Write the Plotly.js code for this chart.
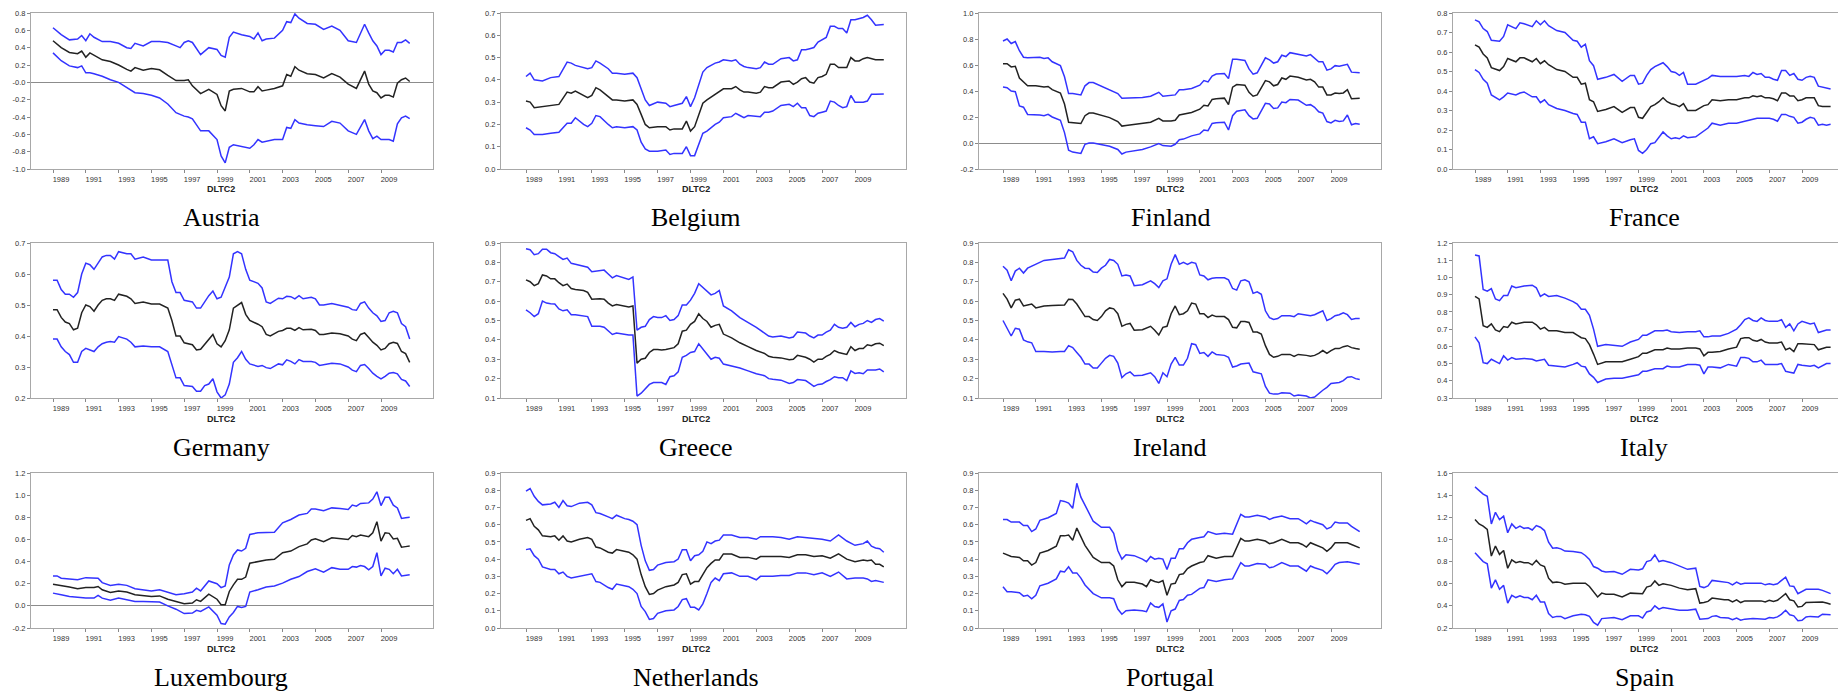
<!DOCTYPE html>
<html><head><meta charset="utf-8">
<script src="https://cdn.plot.ly/plotly-3.0.1.min.js"></script>
<style>html,body{margin:0;padding:0;background:#fff;} #chart{width:1838px;height:694px;}</style>
</head><body><div id="chart"></div>
<script>
// Each row: [year, estimate (DLTC2), upper band, lower band]
const austria = [
[1989.0,0.48,0.63,0.34],[1989.5,0.40,0.55,0.25],[1990.0,0.345,0.49,0.19],[1990.5,0.33,0.50,0.17],[1990.75,0.36,0.54,0.19],
[1991.0,0.29,0.48,0.11],[1991.25,0.34,0.56,0.11],[1991.5,0.31,0.52,0.10],[1992.0,0.26,0.47,0.07],[1992.5,0.24,0.47,0.03],
[1993.0,0.20,0.45,0.00],[1993.5,0.15,0.40,-0.06],[1993.75,0.13,0.39,-0.10],[1994.0,0.17,0.45,-0.12],[1994.5,0.14,0.42,-0.13],
[1995.0,0.16,0.47,-0.15],[1995.5,0.145,0.47,-0.18],[1996.0,0.08,0.46,-0.25],[1996.5,0.02,0.42,-0.35],[1996.75,0.02,0.40,-0.37],
[1997.0,0.02,0.46,-0.39],[1997.25,0.03,0.48,-0.40],[1997.5,-0.04,0.46,-0.42],[1998.0,-0.13,0.32,-0.56],[1998.5,-0.08,0.40,-0.56],
[1999.0,-0.14,0.38,-0.66],[1999.25,-0.27,0.31,-0.85],[1999.5,-0.33,0.29,-0.93],[1999.75,-0.10,0.52,-0.75],[2000.0,-0.08,0.58,-0.72],
[2000.5,-0.07,0.55,-0.74],[2001.0,-0.11,0.53,-0.76],[2001.25,-0.11,0.50,-0.72],[2001.5,-0.05,0.57,-0.66],[2001.75,-0.10,0.48,-0.69],
[2002.0,-0.09,0.50,-0.68],[2002.5,-0.07,0.51,-0.66],[2003.0,-0.04,0.60,-0.66],[2003.25,0.09,0.70,-0.52],[2003.5,0.07,0.69,-0.53],
[2003.75,0.18,0.79,-0.43],[2004.0,0.14,0.74,-0.47],[2004.5,0.10,0.68,-0.49],[2005.0,0.09,0.67,-0.50],[2005.5,0.05,0.61,-0.51],
[2006.0,0.10,0.65,-0.45],[2006.5,0.06,0.60,-0.47],[2007.0,-0.02,0.48,-0.56],[2007.5,-0.07,0.46,-0.60],[2008.0,0.13,0.67,-0.43],
[2008.25,-0.02,0.57,-0.56],[2008.5,-0.10,0.48,-0.65],[2008.75,-0.12,0.42,-0.62],[2009.0,-0.18,0.32,-0.66],[2009.25,-0.15,0.37,-0.66],
[2009.5,-0.15,0.37,-0.66],[2009.75,-0.17,0.35,-0.68],[2010.0,-0.01,0.46,-0.48],[2010.25,0.03,0.46,-0.41],[2010.5,0.05,0.49,-0.39],
[2010.75,0.01,0.45,-0.42]];
const belgium = [
[1989.0,0.305,0.415,0.185],[1989.25,0.30,0.43,0.175],[1989.5,0.275,0.40,0.155],[1990.0,0.28,0.395,0.155],[1990.5,0.285,0.41,0.16],
[1991.0,0.29,0.415,0.165],[1991.5,0.345,0.48,0.205],[1991.75,0.34,0.475,0.205],[1992.0,0.35,0.465,0.23],[1992.5,0.33,0.455,0.20],
[1992.75,0.32,0.45,0.19],[1993.0,0.33,0.455,0.205],[1993.25,0.365,0.485,0.24],[1993.5,0.355,0.475,0.235],[1994.0,0.325,0.45,0.20],
[1994.25,0.31,0.43,0.185],[1994.5,0.31,0.43,0.19],[1995.0,0.305,0.425,0.185],[1995.5,0.31,0.43,0.19],[1995.75,0.29,0.41,0.175],
[1996.0,0.245,0.36,0.12],[1996.25,0.20,0.31,0.09],[1996.5,0.185,0.285,0.08],[1997.0,0.19,0.30,0.08],[1997.5,0.19,0.295,0.085],
[1997.75,0.175,0.28,0.065],[1998.0,0.18,0.285,0.07],[1998.5,0.18,0.295,0.07],[1998.75,0.215,0.325,0.10],[1999.0,0.17,0.28,0.06],
[1999.25,0.19,0.32,0.06],[1999.5,0.24,0.375,0.11],[1999.75,0.295,0.435,0.16],[2000.0,0.31,0.455,0.17],[2000.5,0.335,0.475,0.20],
[2000.75,0.345,0.48,0.21],[2001.0,0.36,0.49,0.23],[2001.5,0.36,0.485,0.235],[2001.75,0.37,0.49,0.25],[2002.0,0.355,0.47,0.24],
[2002.25,0.345,0.46,0.23],[2002.5,0.345,0.455,0.24],[2003.0,0.34,0.45,0.235],[2003.25,0.345,0.455,0.235],[2003.5,0.37,0.48,0.255],
[2003.75,0.365,0.47,0.255],[2004.0,0.365,0.47,0.26],[2004.5,0.39,0.495,0.285],[2005.0,0.395,0.50,0.29],[2005.25,0.38,0.485,0.28],
[2005.5,0.39,0.49,0.295],[2005.75,0.405,0.535,0.275],[2006.0,0.41,0.535,0.275],[2006.25,0.39,0.54,0.24],[2006.5,0.385,0.545,0.235],
[2006.75,0.41,0.57,0.25],[2007.0,0.415,0.58,0.255],[2007.25,0.425,0.59,0.26],[2007.5,0.47,0.64,0.305],[2007.75,0.47,0.64,0.30],
[2008.0,0.455,0.63,0.285],[2008.25,0.455,0.63,0.275],[2008.5,0.455,0.61,0.28],[2008.75,0.50,0.67,0.33],[2009.0,0.485,0.67,0.30],
[2009.25,0.485,0.675,0.30],[2009.5,0.495,0.68,0.30],[2009.75,0.50,0.69,0.305],[2010.0,0.495,0.67,0.335],[2010.25,0.49,0.645,0.335],
[2010.5,0.49,0.645,0.337],[2010.75,0.49,0.648,0.337]];
const finland = [
[1989.0,0.61,0.785,0.43],[1989.25,0.61,0.80,0.425],[1989.5,0.585,0.765,0.40],[1989.75,0.59,0.78,0.395],[1990.0,0.50,0.71,0.285],
[1990.25,0.47,0.66,0.275],[1990.5,0.44,0.655,0.22],[1991.0,0.44,0.655,0.22],[1991.25,0.435,0.66,0.215],[1991.5,0.43,0.65,0.21],
[1991.75,0.435,0.655,0.22],[1992.0,0.41,0.625,0.20],[1992.5,0.385,0.595,0.175],[1992.75,0.30,0.51,0.08],[1993.0,0.16,0.38,-0.055],
[1993.25,0.155,0.38,-0.07],[1993.5,0.15,0.375,-0.075],[1993.75,0.15,0.37,-0.08],[1994.0,0.21,0.44,-0.01],[1994.25,0.23,0.465,0.0],
[1994.5,0.23,0.465,0.0],[1995.0,0.21,0.435,-0.01],[1995.5,0.195,0.41,-0.025],[1996.0,0.165,0.38,-0.05],[1996.25,0.13,0.345,-0.085],
[1996.5,0.135,0.345,-0.07],[1997.0,0.145,0.345,-0.06],[1997.5,0.15,0.35,-0.05],[1998.0,0.16,0.36,-0.03],[1998.5,0.19,0.39,-0.005],
[1998.75,0.17,0.36,-0.02],[1999.25,0.17,0.365,-0.025],[1999.5,0.175,0.37,-0.01],[1999.75,0.215,0.41,0.025],[2000.0,0.22,0.41,0.03],
[2000.5,0.235,0.42,0.055],[2001.0,0.26,0.445,0.07],[2001.25,0.29,0.48,0.10],[2001.5,0.285,0.47,0.095],[2001.75,0.335,0.515,0.15],
[2002.0,0.34,0.53,0.155],[2002.5,0.345,0.535,0.16],[2002.75,0.295,0.495,0.10],[2003.0,0.43,0.645,0.21],[2003.25,0.45,0.645,0.245],
[2003.75,0.445,0.635,0.255],[2004.0,0.39,0.57,0.21],[2004.25,0.36,0.53,0.185],[2004.5,0.37,0.54,0.19],[2005.0,0.48,0.655,0.305],
[2005.25,0.47,0.64,0.30],[2005.5,0.44,0.615,0.265],[2005.75,0.45,0.625,0.27],[2006.0,0.50,0.675,0.315],[2006.25,0.49,0.665,0.31],
[2006.5,0.515,0.695,0.335],[2007.0,0.505,0.685,0.33],[2007.5,0.485,0.67,0.29],[2007.75,0.49,0.68,0.295],[2008.0,0.47,0.655,0.275],
[2008.25,0.43,0.625,0.24],[2008.5,0.43,0.625,0.23],[2008.75,0.37,0.56,0.165],[2009.0,0.37,0.57,0.155],[2009.25,0.385,0.595,0.175],
[2009.5,0.38,0.59,0.165],[2009.75,0.385,0.595,0.17],[2010.0,0.41,0.605,0.215],[2010.25,0.34,0.545,0.14],[2010.5,0.345,0.545,0.15],
[2010.75,0.345,0.54,0.145]];
const france = [
[1989.0,0.637,0.765,0.51],[1989.25,0.625,0.755,0.495],[1989.5,0.59,0.72,0.46],[1989.75,0.57,0.705,0.44],[1990.0,0.52,0.66,0.38],
[1990.5,0.505,0.655,0.355],[1990.75,0.525,0.68,0.37],[1991.0,0.567,0.74,0.39],[1991.5,0.55,0.72,0.38],[1991.75,0.57,0.75,0.39],
[1992.0,0.57,0.745,0.395],[1992.5,0.55,0.73,0.37],[1992.75,0.567,0.76,0.37],[1993.0,0.54,0.74,0.34],[1993.25,0.555,0.76,0.355],
[1993.5,0.535,0.735,0.33],[1994.0,0.51,0.71,0.31],[1994.5,0.50,0.70,0.30],[1995.0,0.47,0.66,0.285],[1995.25,0.47,0.655,0.28],
[1995.5,0.435,0.625,0.24],[1995.75,0.44,0.64,0.24],[1996.0,0.355,0.555,0.155],[1996.25,0.345,0.53,0.165],[1996.5,0.295,0.46,0.13],
[1997.0,0.305,0.47,0.14],[1997.5,0.32,0.485,0.155],[1997.75,0.305,0.465,0.145],[1998.0,0.29,0.45,0.135],[1998.5,0.315,0.48,0.15],
[1998.75,0.315,0.48,0.155],[1999.0,0.265,0.435,0.095],[1999.25,0.26,0.44,0.08],[1999.5,0.29,0.48,0.10],[1999.75,0.32,0.51,0.13],
[2000.0,0.33,0.525,0.135],[2000.25,0.345,0.535,0.16],[2000.5,0.365,0.545,0.19],[2000.75,0.345,0.525,0.17],[2001.0,0.335,0.50,0.155],
[2001.25,0.33,0.495,0.16],[2001.5,0.32,0.48,0.155],[2001.75,0.335,0.495,0.17],[2002.0,0.30,0.435,0.16],[2002.5,0.30,0.435,0.165],
[2003.0,0.325,0.455,0.195],[2003.25,0.33,0.465,0.21],[2003.5,0.355,0.48,0.235],[2004.0,0.35,0.475,0.225],[2004.5,0.355,0.475,0.235],
[2005.0,0.355,0.475,0.235],[2005.5,0.365,0.48,0.245],[2005.75,0.365,0.475,0.25],[2006.0,0.375,0.495,0.255],[2006.25,0.37,0.485,0.26],
[2006.5,0.375,0.49,0.26],[2006.75,0.365,0.47,0.26],[2007.0,0.365,0.47,0.26],[2007.25,0.36,0.46,0.255],[2007.5,0.35,0.455,0.245],
[2007.75,0.39,0.505,0.28],[2008.0,0.39,0.505,0.28],[2008.25,0.375,0.48,0.27],[2008.5,0.375,0.49,0.265],[2008.75,0.35,0.46,0.235],
[2009.0,0.355,0.455,0.24],[2009.25,0.365,0.47,0.255],[2009.5,0.365,0.475,0.265],[2009.75,0.365,0.47,0.26],[2010.0,0.325,0.425,0.225],
[2010.25,0.32,0.42,0.23],[2010.5,0.32,0.415,0.225],[2010.75,0.32,0.41,0.23]];
const germany = [
[1989.0,0.485,0.58,0.39],[1989.25,0.485,0.58,0.39],[1989.5,0.46,0.55,0.365],[1989.75,0.445,0.535,0.35],[1990.0,0.44,0.535,0.34],
[1990.25,0.42,0.525,0.315],[1990.5,0.425,0.54,0.315],[1990.75,0.475,0.60,0.35],[1991.0,0.50,0.635,0.36],[1991.25,0.495,0.63,0.355],
[1991.5,0.48,0.615,0.35],[1991.75,0.50,0.635,0.365],[1992.0,0.515,0.655,0.375],[1992.25,0.52,0.66,0.38],[1992.5,0.52,0.66,0.382],
[1992.75,0.515,0.648,0.38],[1993.0,0.535,0.672,0.398],[1993.5,0.528,0.665,0.39],[1993.75,0.52,0.665,0.38],[1994.0,0.505,0.648,0.365],
[1994.5,0.51,0.655,0.368],[1995.0,0.503,0.645,0.365],[1995.5,0.503,0.645,0.365],[1996.0,0.49,0.645,0.35],[1996.25,0.45,0.575,0.305],
[1996.5,0.40,0.54,0.265],[1996.75,0.40,0.54,0.265],[1997.0,0.378,0.515,0.24],[1997.5,0.372,0.51,0.237],[1997.75,0.355,0.49,0.222],
[1998.0,0.357,0.49,0.222],[1998.25,0.372,0.51,0.24],[1998.5,0.39,0.53,0.245],[1998.75,0.405,0.545,0.262],[1999.0,0.375,0.52,0.22],
[1999.25,0.365,0.525,0.20],[1999.5,0.385,0.555,0.21],[1999.75,0.42,0.59,0.245],[2000.0,0.49,0.665,0.315],[2000.25,0.50,0.672,0.33],
[2000.5,0.508,0.665,0.35],[2000.75,0.47,0.615,0.325],[2001.0,0.45,0.58,0.31],[2001.5,0.438,0.57,0.302],[2001.75,0.43,0.555,0.305],
[2002.0,0.405,0.51,0.298],[2002.25,0.40,0.505,0.295],[2002.75,0.415,0.522,0.31],[2003.0,0.418,0.52,0.307],[2003.25,0.425,0.528,0.323],
[2003.5,0.425,0.527,0.318],[2003.75,0.418,0.52,0.31],[2004.0,0.427,0.53,0.324],[2004.25,0.42,0.52,0.318],[2004.75,0.422,0.525,0.318],
[2005.0,0.418,0.52,0.315],[2005.25,0.405,0.50,0.305],[2005.5,0.405,0.50,0.307],[2006.0,0.41,0.505,0.312],[2006.5,0.407,0.50,0.31],
[2007.0,0.40,0.493,0.30],[2007.25,0.39,0.485,0.29],[2007.5,0.385,0.483,0.285],[2007.75,0.405,0.505,0.305],[2008.0,0.41,0.51,0.308],
[2008.25,0.395,0.49,0.295],[2008.5,0.38,0.475,0.28],[2008.75,0.37,0.465,0.27],[2009.0,0.355,0.447,0.262],[2009.25,0.36,0.45,0.27],
[2009.5,0.375,0.475,0.28],[2009.75,0.38,0.48,0.282],[2010.0,0.376,0.475,0.278],[2010.25,0.35,0.44,0.26],[2010.5,0.343,0.43,0.255],
[2010.75,0.315,0.39,0.237]];
const greece = [
[1989.0,0.71,0.87,0.555],[1989.25,0.70,0.865,0.54],[1989.5,0.68,0.84,0.52],[1989.75,0.69,0.845,0.535],[1990.0,0.735,0.868,0.60],
[1990.25,0.73,0.868,0.59],[1990.5,0.715,0.85,0.587],[1990.75,0.715,0.845,0.585],[1991.0,0.695,0.83,0.56],[1991.25,0.68,0.815,0.55],
[1991.5,0.688,0.822,0.555],[1991.75,0.665,0.795,0.53],[1992.0,0.66,0.79,0.53],[1992.5,0.655,0.78,0.525],[1992.75,0.645,0.775,0.52],
[1993.0,0.61,0.752,0.47],[1993.5,0.612,0.758,0.47],[1993.75,0.61,0.76,0.465],[1994.0,0.59,0.74,0.445],[1994.25,0.575,0.72,0.428],
[1994.5,0.582,0.732,0.435],[1995.0,0.575,0.72,0.428],[1995.25,0.57,0.712,0.425],[1995.5,0.575,0.725,0.425],[1995.75,0.28,0.45,0.11],
[1996.0,0.30,0.465,0.125],[1996.25,0.305,0.47,0.145],[1996.5,0.335,0.505,0.17],[1996.75,0.35,0.52,0.18],[1997.0,0.35,0.515,0.18],
[1997.25,0.348,0.515,0.18],[1997.5,0.35,0.525,0.17],[1997.75,0.355,0.50,0.21],[1998.0,0.36,0.505,0.215],[1998.25,0.38,0.525,0.235],
[1998.5,0.445,0.58,0.31],[1998.75,0.45,0.58,0.32],[1999.0,0.48,0.605,0.335],[1999.25,0.495,0.64,0.34],[1999.5,0.535,0.69,0.38],
[1999.75,0.51,0.67,0.355],[2000.0,0.495,0.655,0.33],[2000.25,0.465,0.632,0.30],[2000.5,0.475,0.64,0.31],[2000.75,0.48,0.655,0.305],
[2001.0,0.43,0.575,0.275],[2001.5,0.41,0.55,0.265],[2002.0,0.385,0.515,0.255],[2002.5,0.365,0.49,0.24],[2003.0,0.345,0.465,0.225],
[2003.5,0.33,0.435,0.215],[2003.75,0.315,0.42,0.20],[2004.0,0.31,0.415,0.197],[2004.5,0.307,0.42,0.192],[2005.0,0.297,0.41,0.175],
[2005.25,0.30,0.415,0.18],[2005.5,0.32,0.44,0.195],[2006.0,0.31,0.435,0.19],[2006.25,0.30,0.42,0.175],[2006.5,0.285,0.41,0.16],
[2006.75,0.30,0.425,0.17],[2007.0,0.30,0.425,0.172],[2007.25,0.315,0.44,0.185],[2007.5,0.325,0.45,0.195],[2007.75,0.345,0.48,0.21],
[2008.0,0.335,0.465,0.205],[2008.25,0.33,0.46,0.205],[2008.5,0.325,0.465,0.19],[2008.75,0.365,0.49,0.24],[2009.0,0.345,0.468,0.227],
[2009.25,0.355,0.48,0.23],[2009.5,0.355,0.485,0.225],[2009.75,0.375,0.50,0.245],[2010.0,0.37,0.49,0.245],[2010.25,0.38,0.505,0.245],
[2010.5,0.383,0.51,0.25],[2010.75,0.37,0.497,0.235]];
const ireland = [
[1989.0,0.64,0.78,0.50],[1989.25,0.61,0.76,0.46],[1989.5,0.565,0.705,0.42],[1989.75,0.605,0.755,0.46],[1990.0,0.61,0.77,0.455],
[1990.25,0.575,0.745,0.40],[1990.5,0.58,0.77,0.39],[1990.75,0.585,0.78,0.385],[1991.0,0.565,0.79,0.34],[1991.5,0.575,0.81,0.34],
[1992.0,0.577,0.815,0.338],[1992.5,0.58,0.82,0.34],[1992.75,0.58,0.822,0.34],[1993.0,0.61,0.865,0.37],[1993.25,0.608,0.855,0.36],
[1993.5,0.585,0.81,0.335],[1993.75,0.555,0.785,0.31],[1994.0,0.52,0.77,0.275],[1994.25,0.52,0.768,0.275],[1994.5,0.505,0.75,0.255],
[1994.75,0.50,0.748,0.255],[1995.0,0.52,0.77,0.28],[1995.25,0.55,0.785,0.305],[1995.5,0.565,0.815,0.32],[1995.75,0.56,0.81,0.315],
[1996.0,0.535,0.79,0.28],[1996.25,0.47,0.73,0.205],[1996.5,0.48,0.735,0.225],[1996.75,0.485,0.73,0.235],[1997.0,0.45,0.68,0.215],
[1997.5,0.452,0.685,0.217],[1998.0,0.47,0.705,0.23],[1998.25,0.45,0.69,0.21],[1998.5,0.425,0.67,0.175],[1998.75,0.465,0.705,0.23],
[1999.0,0.47,0.715,0.21],[1999.25,0.535,0.79,0.275],[1999.5,0.575,0.84,0.31],[1999.75,0.53,0.79,0.27],[2000.0,0.535,0.80,0.27],
[2000.25,0.55,0.79,0.305],[2000.5,0.59,0.80,0.38],[2000.75,0.585,0.795,0.375],[2001.0,0.535,0.735,0.33],[2001.25,0.535,0.73,0.335],
[2001.5,0.515,0.71,0.315],[2001.75,0.528,0.718,0.338],[2002.0,0.52,0.72,0.325],[2002.5,0.52,0.72,0.32],[2002.75,0.505,0.71,0.31],
[2003.0,0.465,0.665,0.26],[2003.25,0.462,0.657,0.265],[2003.5,0.495,0.705,0.275],[2003.75,0.495,0.71,0.278],[2004.0,0.49,0.70,0.28],
[2004.25,0.44,0.64,0.235],[2004.5,0.44,0.648,0.23],[2004.75,0.43,0.635,0.225],[2005.0,0.37,0.55,0.16],[2005.25,0.325,0.515,0.125],
[2005.5,0.31,0.505,0.12],[2005.75,0.315,0.51,0.12],[2006.0,0.325,0.525,0.127],[2006.5,0.325,0.525,0.125],[2006.75,0.315,0.52,0.11],
[2007.0,0.325,0.535,0.115],[2007.5,0.32,0.53,0.11],[2007.75,0.315,0.525,0.10],[2008.0,0.32,0.53,0.105],[2008.25,0.33,0.54,0.125],
[2008.5,0.345,0.55,0.14],[2008.75,0.33,0.50,0.155],[2009.0,0.345,0.51,0.175],[2009.25,0.355,0.525,0.178],[2009.5,0.355,0.53,0.18],
[2009.75,0.365,0.54,0.19],[2010.0,0.37,0.53,0.207],[2010.25,0.36,0.505,0.21],[2010.5,0.355,0.51,0.20],[2010.75,0.352,0.51,0.195]];
const italy = [
[1989.0,0.89,1.13,0.655],[1989.25,0.875,1.125,0.62],[1989.5,0.72,0.93,0.505],[1989.75,0.71,0.92,0.50],[1990.0,0.73,0.935,0.525],
[1990.25,0.695,0.875,0.51],[1990.5,0.685,0.865,0.50],[1990.75,0.715,0.895,0.545],[1991.0,0.71,0.895,0.52],[1991.25,0.74,0.95,0.535],
[1991.5,0.73,0.94,0.525],[1992.0,0.74,0.95,0.53],[1992.5,0.74,0.955,0.525],[1992.75,0.725,0.94,0.515],[1993.0,0.70,0.89,0.52],
[1993.25,0.71,0.905,0.525],[1993.5,0.69,0.89,0.49],[1994.0,0.69,0.895,0.485],[1994.5,0.68,0.88,0.48],[1995.0,0.68,0.86,0.495],
[1995.25,0.665,0.845,0.505],[1995.5,0.65,0.815,0.485],[1995.75,0.645,0.815,0.48],[1996.0,0.61,0.78,0.44],[1996.25,0.555,0.70,0.42],
[1996.5,0.495,0.60,0.39],[1997.0,0.51,0.61,0.41],[1997.5,0.51,0.605,0.415],[1998.0,0.51,0.60,0.415],[1998.5,0.525,0.625,0.425],
[1999.0,0.54,0.64,0.435],[1999.25,0.56,0.665,0.455],[1999.5,0.56,0.665,0.455],[2000.0,0.58,0.69,0.47],[2000.5,0.58,0.69,0.47],
[2000.75,0.59,0.695,0.485],[2001.0,0.585,0.685,0.48],[2001.5,0.585,0.68,0.48],[2002.0,0.59,0.685,0.495],[2002.5,0.59,0.685,0.495],
[2002.75,0.585,0.69,0.49],[2003.0,0.545,0.655,0.44],[2003.25,0.565,0.655,0.48],[2003.5,0.565,0.66,0.48],[2004.0,0.57,0.66,0.475],
[2004.5,0.585,0.675,0.495],[2005.0,0.595,0.70,0.485],[2005.25,0.645,0.725,0.535],[2005.5,0.65,0.755,0.535],[2005.75,0.65,0.765,0.53],
[2006.0,0.635,0.75,0.51],[2006.25,0.63,0.745,0.51],[2006.5,0.64,0.765,0.52],[2006.75,0.625,0.75,0.495],[2007.0,0.62,0.745,0.495],
[2007.5,0.62,0.745,0.495],[2007.75,0.625,0.755,0.50],[2008.0,0.58,0.71,0.455],[2008.25,0.59,0.73,0.45],[2008.5,0.57,0.69,0.445],
[2008.75,0.615,0.73,0.495],[2009.0,0.615,0.745,0.49],[2009.5,0.61,0.73,0.485],[2009.75,0.61,0.735,0.49],[2010.0,0.58,0.68,0.475],
[2010.5,0.595,0.695,0.50],[2010.75,0.595,0.695,0.50]];
const luxembourg = [
[1989.0,0.195,0.27,0.115],[1989.25,0.19,0.27,0.11],[1989.5,0.18,0.25,0.10],[1990.0,0.17,0.245,0.085],[1990.5,0.155,0.235,0.075],
[1991.0,0.165,0.255,0.07],[1991.5,0.165,0.255,0.07],[1991.75,0.175,0.25,0.095],[1992.0,0.145,0.21,0.07],[1992.5,0.12,0.185,0.05],
[1993.0,0.135,0.195,0.07],[1993.5,0.125,0.185,0.055],[1994.0,0.10,0.155,0.04],[1994.5,0.095,0.145,0.04],[1995.0,0.085,0.135,0.035],
[1995.5,0.09,0.145,0.035],[1996.0,0.06,0.12,0.0],[1996.5,0.04,0.10,-0.03],[1997.0,0.02,0.11,-0.07],[1997.5,0.025,0.125,-0.065],
[1997.75,0.055,0.16,-0.04],[1998.0,0.04,0.135,-0.05],[1998.5,0.105,0.225,-0.01],[1999.0,0.06,0.20,-0.085],[1999.25,0.01,0.165,-0.16],
[1999.5,0.01,0.18,-0.165],[1999.75,0.13,0.37,-0.10],[2000.0,0.19,0.46,-0.06],[2000.25,0.24,0.505,-0.005],[2000.5,0.24,0.495,-0.015],
[2000.75,0.26,0.52,-0.005],[2001.0,0.385,0.645,0.125],[2001.5,0.40,0.66,0.145],[2002.0,0.415,0.66,0.17],[2002.5,0.42,0.665,0.18],
[2003.0,0.48,0.75,0.205],[2003.5,0.495,0.78,0.24],[2004.0,0.535,0.82,0.265],[2004.5,0.56,0.835,0.31],[2004.75,0.595,0.875,0.32],
[2005.0,0.605,0.875,0.335],[2005.5,0.58,0.86,0.305],[2006.0,0.615,0.885,0.345],[2006.5,0.61,0.88,0.33],[2007.0,0.60,0.87,0.33],
[2007.25,0.635,0.91,0.355],[2007.5,0.625,0.90,0.35],[2007.75,0.64,0.925,0.365],[2008.0,0.635,0.925,0.355],[2008.25,0.625,0.93,0.325],
[2008.5,0.66,0.965,0.355],[2008.75,0.76,1.03,0.48],[2009.0,0.585,0.905,0.27],[2009.25,0.66,0.98,0.34],[2009.5,0.655,0.98,0.33],
[2009.75,0.605,0.91,0.29],[2010.0,0.61,0.885,0.33],[2010.25,0.53,0.79,0.27],[2010.5,0.535,0.795,0.275],[2010.75,0.54,0.80,0.28]];
const netherlands = [
[1989.0,0.625,0.795,0.455],[1989.25,0.635,0.81,0.46],[1989.5,0.59,0.765,0.42],[1989.75,0.57,0.735,0.40],[1990.0,0.535,0.715,0.355],
[1990.5,0.53,0.72,0.34],[1990.75,0.535,0.73,0.34],[1991.0,0.51,0.70,0.315],[1991.25,0.535,0.74,0.325],[1991.5,0.505,0.71,0.30],
[1991.75,0.50,0.705,0.29],[1992.25,0.515,0.725,0.30],[1992.75,0.525,0.73,0.31],[1993.0,0.515,0.715,0.315],[1993.25,0.47,0.67,0.27],
[1993.5,0.465,0.665,0.265],[1994.0,0.44,0.645,0.235],[1994.25,0.435,0.635,0.225],[1994.5,0.455,0.655,0.255],[1995.0,0.445,0.635,0.245],
[1995.25,0.44,0.63,0.24],[1995.5,0.425,0.62,0.225],[1995.75,0.40,0.60,0.20],[1996.0,0.31,0.48,0.125],[1996.25,0.24,0.39,0.095],
[1996.5,0.195,0.335,0.05],[1996.75,0.20,0.34,0.055],[1997.0,0.22,0.365,0.085],[1997.5,0.24,0.38,0.10],[1998.0,0.25,0.385,0.105],
[1998.25,0.265,0.40,0.125],[1998.5,0.31,0.455,0.165],[1998.75,0.315,0.455,0.17],[1999.0,0.255,0.39,0.12],[1999.25,0.27,0.42,0.12],
[1999.5,0.27,0.425,0.105],[1999.75,0.31,0.445,0.14],[2000.0,0.35,0.50,0.20],[2000.25,0.375,0.49,0.265],[2000.5,0.395,0.505,0.29],
[2000.75,0.395,0.51,0.275],[2001.0,0.43,0.54,0.315],[2001.5,0.43,0.54,0.32],[2002.0,0.41,0.525,0.30],[2002.5,0.41,0.525,0.30],
[2003.0,0.40,0.515,0.28],[2003.25,0.415,0.53,0.30],[2004.0,0.415,0.53,0.30],[2004.5,0.415,0.525,0.305],[2005.0,0.41,0.515,0.305],
[2005.5,0.425,0.53,0.32],[2006.0,0.425,0.525,0.32],[2006.5,0.415,0.52,0.31],[2007.0,0.42,0.515,0.32],[2007.5,0.405,0.505,0.30],
[2008.0,0.43,0.54,0.325],[2008.5,0.40,0.505,0.285],[2009.0,0.385,0.48,0.29],[2009.5,0.395,0.49,0.29],[2009.75,0.39,0.505,0.285],
[2010.0,0.395,0.475,0.27],[2010.25,0.37,0.465,0.275],[2010.5,0.37,0.46,0.27],[2010.75,0.355,0.44,0.265]];
const portugal = [
[1989.0,0.435,0.63,0.24],[1989.25,0.425,0.63,0.21],[1989.5,0.415,0.615,0.21],[1990.0,0.41,0.615,0.205],[1990.25,0.39,0.595,0.185],
[1990.5,0.39,0.595,0.19],[1990.75,0.365,0.56,0.17],[1991.0,0.38,0.575,0.19],[1991.25,0.435,0.625,0.245],[1991.75,0.45,0.64,0.26],
[1992.25,0.475,0.665,0.285],[1992.5,0.535,0.74,0.33],[1992.75,0.535,0.735,0.325],[1993.0,0.54,0.725,0.355],[1993.25,0.51,0.695,0.32],
[1993.5,0.58,0.84,0.32],[1993.75,0.525,0.76,0.29],[1994.0,0.48,0.71,0.25],[1994.5,0.41,0.62,0.20],[1995.0,0.38,0.585,0.175],
[1995.5,0.38,0.585,0.175],[1995.75,0.36,0.55,0.17],[1996.0,0.28,0.45,0.11],[1996.25,0.24,0.40,0.08],[1996.5,0.265,0.425,0.10],
[1997.0,0.265,0.42,0.105],[1997.5,0.255,0.40,0.10],[1997.75,0.24,0.385,0.095],[1998.0,0.28,0.415,0.145],[1998.25,0.27,0.40,0.125],
[1998.5,0.265,0.405,0.12],[1998.75,0.275,0.40,0.14],[1999.0,0.19,0.34,0.035],[1999.25,0.255,0.405,0.10],[1999.5,0.26,0.405,0.11],
[1999.75,0.31,0.46,0.16],[2000.0,0.315,0.46,0.165],[2000.25,0.345,0.495,0.19],[2000.5,0.36,0.515,0.195],[2001.0,0.38,0.525,0.23],
[2001.25,0.385,0.53,0.235],[2001.5,0.42,0.56,0.28],[2002.0,0.405,0.545,0.27],[2002.5,0.415,0.55,0.28],[2003.0,0.415,0.545,0.285],
[2003.5,0.52,0.66,0.38],[2003.75,0.505,0.645,0.36],[2004.0,0.505,0.645,0.36],[2004.5,0.515,0.655,0.375],[2005.0,0.505,0.645,0.37],
[2005.25,0.49,0.63,0.35],[2005.5,0.495,0.64,0.355],[2006.0,0.515,0.65,0.38],[2006.5,0.495,0.635,0.36],[2007.0,0.495,0.635,0.36],
[2007.25,0.485,0.62,0.345],[2007.5,0.47,0.605,0.33],[2007.75,0.495,0.625,0.36],[2008.0,0.485,0.615,0.35],[2008.5,0.465,0.60,0.335],
[2008.75,0.445,0.575,0.315],[2009.0,0.465,0.585,0.34],[2009.25,0.495,0.615,0.37],[2009.5,0.495,0.61,0.38],[2010.0,0.495,0.61,0.385],
[2010.25,0.485,0.59,0.38],[2010.5,0.475,0.575,0.375],[2010.75,0.465,0.56,0.37]];
const spain = [
[1989.0,1.18,1.475,0.88],[1989.25,1.14,1.44,0.835],[1989.5,1.12,1.41,0.80],[1989.75,1.09,1.39,0.78],[1990.0,0.85,1.14,0.56],
[1990.25,0.94,1.245,0.635],[1990.5,0.865,1.18,0.55],[1990.75,0.90,1.21,0.585],[1991.0,0.74,1.06,0.425],[1991.25,0.815,1.14,0.495],
[1991.5,0.79,1.10,0.475],[1991.75,0.80,1.12,0.49],[1992.0,0.79,1.10,0.475],[1992.25,0.79,1.105,0.475],[1992.5,0.77,1.085,0.455],
[1992.75,0.81,1.125,0.495],[1993.0,0.77,1.11,0.435],[1993.25,0.755,1.08,0.435],[1993.5,0.65,0.975,0.33],[1993.75,0.61,0.92,0.295],
[1994.0,0.615,0.925,0.305],[1994.25,0.61,0.915,0.305],[1994.5,0.595,0.895,0.285],[1995.0,0.605,0.89,0.31],[1995.5,0.605,0.88,0.325],
[1995.75,0.605,0.855,0.32],[1996.0,0.575,0.82,0.305],[1996.25,0.525,0.755,0.25],[1996.5,0.48,0.74,0.225],[1996.75,0.515,0.715,0.285],
[1997.0,0.505,0.705,0.29],[1997.5,0.505,0.71,0.295],[1998.0,0.48,0.685,0.275],[1998.5,0.515,0.73,0.31],[1999.0,0.515,0.725,0.31],
[1999.25,0.51,0.735,0.29],[1999.5,0.57,0.80,0.345],[1999.75,0.58,0.81,0.355],[2000.0,0.625,0.86,0.40],[2000.25,0.585,0.80,0.37],
[2000.5,0.60,0.81,0.385],[2001.0,0.585,0.79,0.375],[2001.5,0.56,0.76,0.36],[2002.0,0.545,0.73,0.36],[2002.5,0.555,0.74,0.37],
[2002.75,0.425,0.575,0.28],[2003.0,0.43,0.565,0.28],[2003.25,0.44,0.58,0.285],[2003.5,0.47,0.63,0.305],[2003.75,0.465,0.625,0.31],
[2004.0,0.455,0.615,0.295],[2004.25,0.455,0.61,0.295],[2004.5,0.455,0.61,0.29],[2004.75,0.435,0.59,0.275],[2005.0,0.455,0.615,0.29],
[2005.25,0.43,0.595,0.27],[2005.5,0.445,0.605,0.28],[2006.0,0.445,0.605,0.285],[2006.5,0.445,0.605,0.285],[2006.75,0.435,0.59,0.28],
[2007.0,0.45,0.60,0.295],[2007.25,0.44,0.59,0.29],[2007.5,0.45,0.60,0.30],[2007.75,0.48,0.63,0.325],[2008.0,0.51,0.66,0.36],
[2008.25,0.455,0.58,0.32],[2008.5,0.445,0.575,0.31],[2008.75,0.39,0.51,0.265],[2009.0,0.395,0.53,0.27],[2009.25,0.43,0.55,0.30],
[2009.5,0.43,0.55,0.305],[2010.0,0.43,0.55,0.30],[2010.25,0.435,0.54,0.325],[2010.5,0.425,0.525,0.32],[2010.75,0.415,0.51,0.32]];

const countryNames = ["Austria","Belgium","Finland","France","Germany","Greece","Ireland","Italy","Luxembourg","Netherlands","Portugal","Spain"];
const countryData = [austria,belgium,finland,france,germany,greece,ireland,italy,luxembourg,netherlands,portugal,spain];
const xTickYears = [1989,1991,1993,1995,1997,1999,2001,2003,2005,2007,2009];
const xTickLabels = ["1989","1991","1993","1995","1997","1999","2001","2003","2005","2007","2009"];
const xAxisTitle = "DLTC2";
// y-axis ranges and tick labels per panel
const yRanges = [[-1.0,0.8],[0,0.7],[-0.2,1.0],[0,0.8],[0.2,0.7],[0.1,0.9],[0.1,0.9],[0.3,1.2],[-0.2,1.2],[0,0.9],[0,0.9],[0.2,1.6]];
const yTickVals = [
 [-1.0,-0.8,-0.6,-0.4,-0.2,0,0.2,0.4,0.6,0.8],
 [0,0.1,0.2,0.3,0.4,0.5,0.6,0.7],
 [-0.2,0,0.2,0.4,0.6,0.8,1.0],
 [0,0.1,0.2,0.3,0.4,0.5,0.6,0.7,0.8],
 [0.2,0.3,0.4,0.5,0.6,0.7],
 [0.1,0.2,0.3,0.4,0.5,0.6,0.7,0.8,0.9],
 [0.1,0.2,0.3,0.4,0.5,0.6,0.7,0.8,0.9],
 [0.3,0.4,0.5,0.6,0.7,0.8,0.9,1.0,1.1,1.2],
 [-0.2,0,0.2,0.4,0.6,0.8,1.0,1.2],
 [0,0.1,0.2,0.3,0.4,0.5,0.6,0.7,0.8,0.9],
 [0,0.1,0.2,0.3,0.4,0.5,0.6,0.7,0.8,0.9],
 [0.2,0.4,0.6,0.8,1.0,1.2,1.4,1.6]];
const yTickText = [
 ["-1.0","-0.8","-0.6","-0.4","-0.2","-0.0","0.2","0.4","0.6","0.8"],
 ["0.0","0.1","0.2","0.3","0.4","0.5","0.6","0.7"],
 ["-0.2","0.0","0.2","0.4","0.6","0.8","1.0"],
 ["0.0","0.1","0.2","0.3","0.4","0.5","0.6","0.7","0.8"],
 ["0.2","0.3","0.4","0.5","0.6","0.7"],
 ["0.1","0.2","0.3","0.4","0.5","0.6","0.7","0.8","0.9"],
 ["0.1","0.2","0.3","0.4","0.5","0.6","0.7","0.8","0.9"],
 ["0.3","0.4","0.5","0.6","0.7","0.8","0.9","1.0","1.1","1.2"],
 ["-0.2","0.0","0.2","0.4","0.6","0.8","1.0","1.2"],
 ["0.0","0.1","0.2","0.3","0.4","0.5","0.6","0.7","0.8","0.9"],
 ["0.0","0.1","0.2","0.3","0.4","0.5","0.6","0.7","0.8","0.9"],
 ["0.2","0.4","0.6","0.8","1.0","1.2","1.4","1.6"]];

// ---------- layout geometry (pixels) ----------
const W = 1838, H = 694;
const colGeom = [
  {l:31, r:433, t89:53, t09:381, lab:221},
  {l:501, r:906, t89:526, t09:855, lab:696},
  {l:979, r:1381, t89:1003, t09:1331, lab:1170},
  {l:1453, r:1838, t89:1475, t09:1802, lab:1644}];
const rowGeom = [
  {t:13, b:169, xt:189, ct:217},
  {t:243, b:398, xt:419, ct:447},
  {t:473, b:628, xt:649, ct:677}];

const BLUE = '#3333ff', BLACK = '#222222', FRAME = '#a8a8a8';
const tickFont = {family:'Liberation Sans, Arial, sans-serif', size:7.5, color:'#333'};
const traces = [];
const layout = {
  width:W, height:H, margin:{l:0,r:0,t:0,b:0}, showlegend:false,
  paper_bgcolor:'#fff', plot_bgcolor:'#fff', annotations:[], hovermode:false
};

countryData.forEach((rows, i) => {
  const c = colGeom[i % 4], r = rowGeom[Math.floor(i / 4)];
  const n = i + 1, xa = 'x' + (n === 1 ? '' : n), ya = 'y' + (n === 1 ? '' : n);
  const yrs = rows.map(d => d[0]);
  const est = rows.map(d => d[1]);
  const up = rows.map(d => d[2]);
  const lo = rows.map(d => d[3]);
  const common = {type:'scatter', mode:'lines', x:yrs, xaxis:xa, yaxis:ya, hoverinfo:'skip'};
  traces.push(Object.assign({}, common, {y:up, line:{color:BLUE, width:1.5}}));
  traces.push(Object.assign({}, common, {y:lo, line:{color:BLUE, width:1.5}}));
  traces.push(Object.assign({}, common, {y:est, line:{color:BLACK, width:1.5}}));

  const scale = (c.t09 - c.t89) / 20;
  const xr = [1989 - (c.t89 - c.l) / scale, 2009 + (c.r - c.t09) / scale];
  const hasNeg = yRanges[i][0] < 0;
  layout['xaxis' + (n === 1 ? '' : n)] = {
    domain:[c.l / W, Math.min(1, c.r / W)], range:xr, anchor:ya,
    tickmode:'array', tickvals:xTickYears, ticktext:xTickLabels,
    ticks:'outside', ticklen:3, tickcolor:'#888', tickwidth:1,
    ticklabelshift:8, tickfont:tickFont,
    showline:true, linecolor:FRAME, linewidth:1, mirror:true,
    showgrid:false, zeroline:false, fixedrange:true
  };
  layout['yaxis' + (n === 1 ? '' : n)] = {
    domain:[1 - r.b / H, 1 - r.t / H], range:yRanges[i], anchor:xa,
    tickmode:'array', tickvals:yTickVals[i], ticktext:yTickText[i],
    ticks:'outside', ticklen:3, tickcolor:'#888', tickwidth:1, tickfont:tickFont,
    showline:true, linecolor:FRAME, linewidth:1, mirror:(i % 4 !== 3),
    showgrid:false, zeroline:hasNeg, zerolinecolor:'#8c8c8c', zerolinewidth:1, fixedrange:true
  };
  layout.annotations.push({
    xref:'paper', yref:'paper', x:c.lab / W, y:1 - r.xt / H, xanchor:'center', yanchor:'middle',
    text:'<b>' + xAxisTitle + '</b>', showarrow:false,
    font:{family:'Liberation Sans, Arial, sans-serif', size:9, color:'#222'}
  });
  layout.annotations.push({
    xref:'paper', yref:'paper', x:c.lab / W, y:1 - r.ct / H, xanchor:'center', yanchor:'middle',
    text:countryNames[i], showarrow:false,
    font:{family:'Liberation Serif, Times New Roman, serif', size:26, color:'#000'}
  });
});

Plotly.newPlot('chart', traces, layout, {staticPlot:true, displayModeBar:false});
</script>
</body></html>
